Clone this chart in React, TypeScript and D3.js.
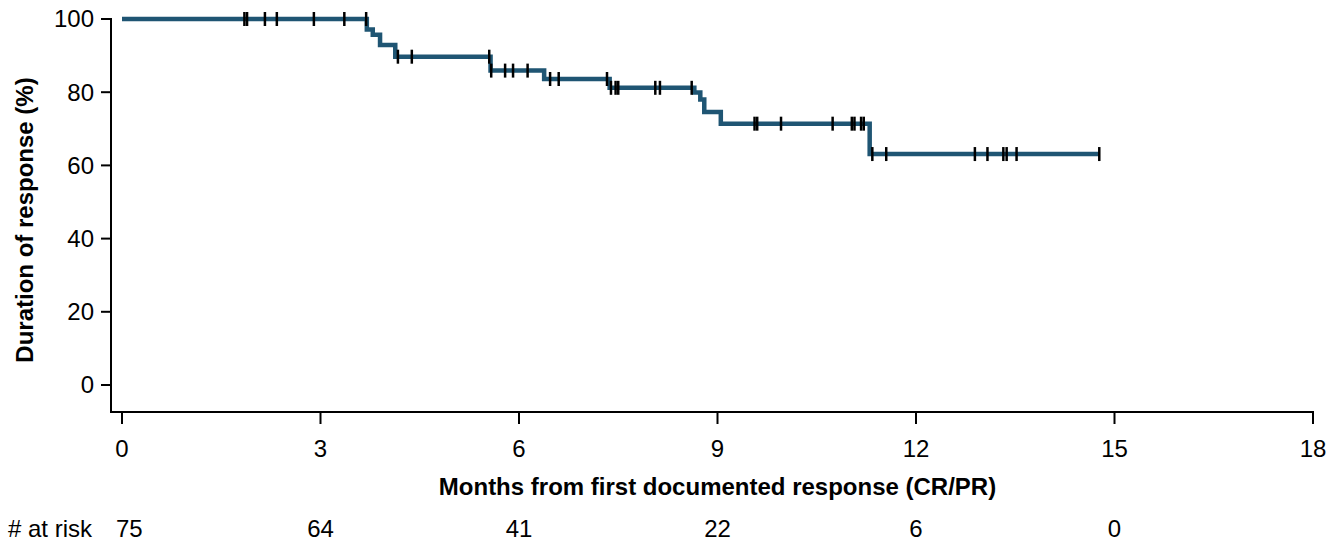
import React from "react";
import * as d3 from "d3";

// Kaplan-Meier step data (months, % still in response)
const eventTimes = [0, 3.7, 3.79, 3.9, 4.13, 5.57, 6.38, 7.37, 8.65, 8.74, 8.8, 9.05, 11.3];
const survival = [100, 97.1, 95.7, 92.9, 89.7, 85.9, 83.6, 81.2, 79.9, 78.0, 74.6, 71.4, 63.1];
const lastTime = 14.77;

// Censored observations (months)
const censorTimes = [
  1.85, 1.89, 2.16, 2.34, 2.9, 3.36, 3.69, 4.17, 4.38,
  5.55, 5.58, 5.79, 5.91, 6.13, 6.47, 6.6,
  7.33, 7.39, 7.46, 7.5, 8.06, 8.13, 8.61,
  9.56, 9.6, 9.96, 10.74, 11.03, 11.07, 11.17, 11.21,
  11.34, 11.55, 12.89, 13.08, 13.32, 13.37, 13.52, 14.77,
];

const xTicks = [0, 3, 6, 9, 12, 15, 18];
const yTicks = [0, 20, 40, 60, 80, 100];
const atRiskTimes = [0, 3, 6, 9, 12, 15];
const atRiskCounts = [75, 64, 41, 22, 6, 0];

const W = 1332;
const H = 543;
const FONT = "'Liberation Sans', Arial, Helvetica, sans-serif";
const CURVE = "#1f5573";

export default function App() {
  const x = d3.scaleLinear().domain([0, 18]).range([122, 1313]);
  const y = d3.scaleLinear().domain([0, 100]).range([385, 19]);
  const axisY = 412;
  const axisX = 111;

  const pts: [number, number][] = eventTimes.map((t, i) => [t, survival[i]]);
  pts.push([lastTime, survival[survival.length - 1]]);
  const line = d3
    .line<[number, number]>()
    .x((d) => x(d[0]))
    .y((d) => y(d[1]))
    .curve(d3.curveStepAfter);

  const survAt = (t: number) => {
    let s = survival[0];
    for (let i = 0; i < eventTimes.length; i++) if (eventTimes[i] <= t) s = survival[i];
    return s;
  };

  return (
    <svg
      width={W}
      height={H}
      style={{ position: "absolute", left: 0, top: 0, background: "#fff" }}
      fontFamily={FONT}
    >
      {/* axes */}
      <line x1={axisX} x2={axisX} y1={y(100) - 1} y2={axisY + 1} stroke="#000" strokeWidth={2} />
      <line x1={axisX - 1} x2={x(18) + 1} y1={axisY} y2={axisY} stroke="#000" strokeWidth={2} />
      {yTicks.map((v) => (
        <g key={"y" + v}>
          <line x1={axisX - 10} x2={axisX} y1={y(v)} y2={y(v)} stroke="#000" strokeWidth={2} />
          <text x={axisX - 17} y={y(v)} dy="0.35em" textAnchor="end" fontSize={24} fill="#000">
            {v}
          </text>
        </g>
      ))}
      {xTicks.map((v) => (
        <g key={"x" + v}>
          <line x1={x(v)} x2={x(v)} y1={axisY} y2={axisY + 12} stroke="#000" strokeWidth={2} />
          <text x={x(v)} y={457} textAnchor="middle" fontSize={24} fill="#000">
            {v}
          </text>
        </g>
      ))}
      <text
        x={(x(0) + x(18)) / 2}
        y={495}
        textAnchor="middle"
        fontSize={24}
        fontWeight="bold"
        fill="#000"
      >
        Months from first documented response (CR/PR)
      </text>
      <text
        transform={`translate(33,220) rotate(-90)`}
        textAnchor="middle"
        fontSize={24}
        fontWeight="bold"
        fill="#000"
      >
        Duration of response (%)
      </text>

      {/* KM curve */}
      <path d={line(pts) || ""} fill="none" stroke={CURVE} strokeWidth={4.5} />
      {censorTimes.map((t, i) => (
        <line
          key={"c" + i}
          x1={x(t)}
          x2={x(t)}
          y1={y(survAt(t)) - 7}
          y2={y(survAt(t)) + 7}
          stroke="#000"
          strokeWidth={2.5}
        />
      ))}

      {/* at risk table */}
      <text x={8} y={537} fontSize={24} fill="#000">
        # at risk
      </text>
      {atRiskTimes.map((t, i) => (
        <text
          key={"r" + t}
          x={i === 0 ? x(t) - 6 : x(t)}
          y={537}
          textAnchor={i === 0 ? "start" : "middle"}
          fontSize={24}
          fill="#000"
        >
          {atRiskCounts[i]}
        </text>
      ))}
    </svg>
  );
}
